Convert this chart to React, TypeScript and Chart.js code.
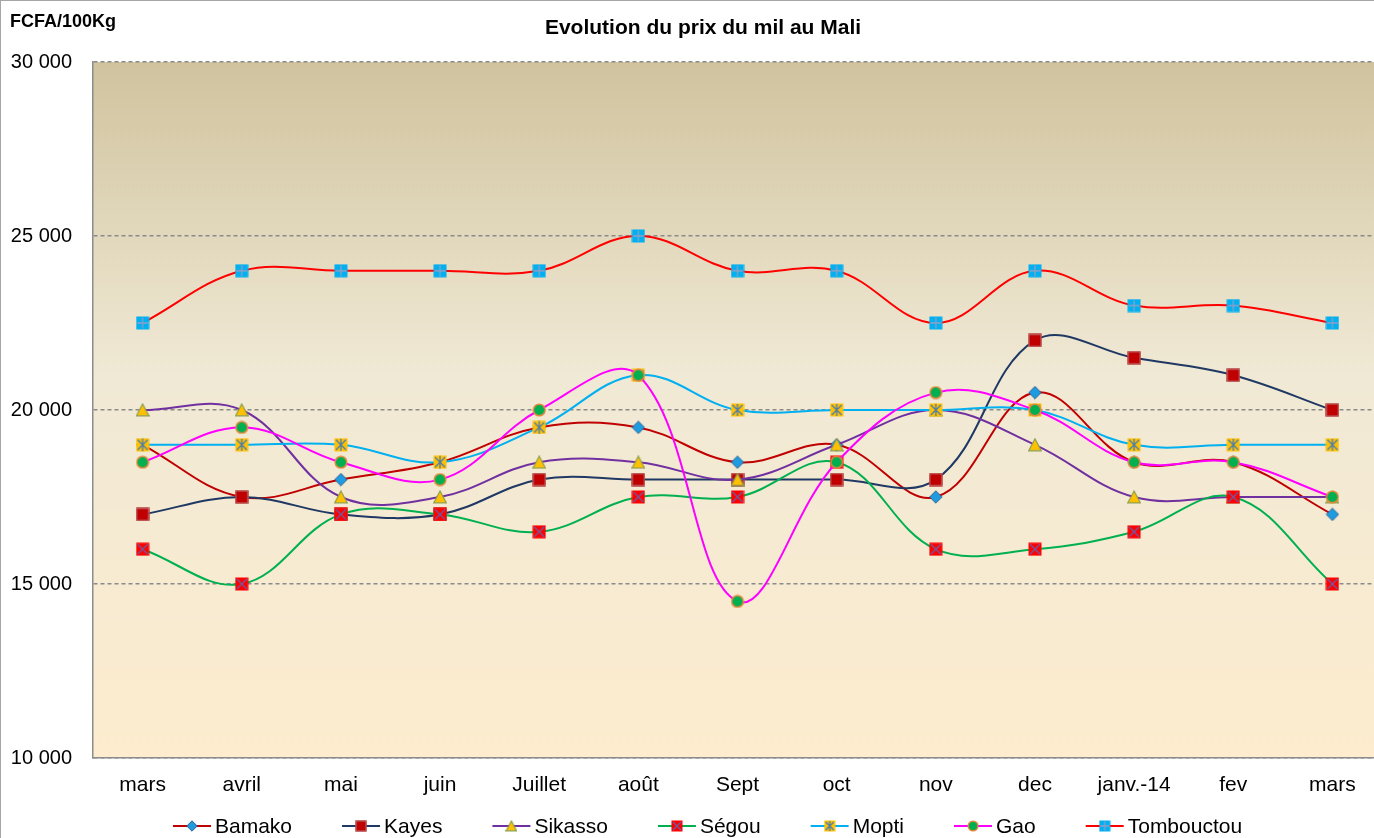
import { useEffect, useRef } from "react";
import { Chart, registerables } from "chart.js";

Chart.register(...registerables);

const months = ["mars", "avril", "mai", "juin", "Juillet", "août", "Sept", "oct", "nov", "dec", "janv.-14", "fev", "mars"];
const bamako = [19000, 17500, 18000, 18500, 19500, 19500, 18500, 19000, 17500, 20500, 18500, 18500, 17000];
const kayes = [17000, 17500, 17000, 17000, 18000, 18000, 18000, 18000, 18000, 22000, 21500, 21000, 20000];
const sikasso = [20000, 20000, 17500, 17500, 18500, 18500, 18000, 19000, 20000, 19000, 17500, 17500, 17500];
const segou = [16000, 15000, 17000, 17000, 16500, 17500, 17500, 18500, 16000, 16000, 16500, 17500, 15000];
const mopti = [19000, 19000, 19000, 18500, 19500, 21000, 20000, 20000, 20000, 20000, 19000, 19000, 19000];
const gao = [18500, 19500, 18500, 18000, 20000, 21000, 14500, 18500, 20500, 20000, 18500, 18500, 17500];
const tombouctou = [22500, 24000, 24000, 24000, 24000, 25000, 24000, 24000, 22500, 24000, 23000, 23000, 22500];
const yMin = 10000;
const yMax = 30000;
const yStep = 5000;

const seriesNames = ["Bamako", "Kayes", "Sikasso", "Ségou", "Mopti", "Gao", "Tombouctou"];
const seriesData = [bamako, kayes, sikasso, segou, mopti, gao, tombouctou];
const lineColors = ["#c00000", "#1f3864", "#7030a0", "#00b050", "#00b0f0", "#ff00ff", "#ff0000"];
const markerKinds = ["diamond", "kayes", "triangle", "segou", "mopti", "gao", "tomb"];

function makeMarker(kind: string, size: number): HTMLCanvasElement {
  const c = document.createElement("canvas");
  c.width = size;
  c.height = size;
  const g = c.getContext("2d")!;
  const m = size / 2;
  g.lineJoin = "miter";
  switch (kind) {
    case "diamond":
      g.beginPath();
      g.moveTo(m, 0.8);
      g.lineTo(size - 0.8, m);
      g.lineTo(m, size - 0.8);
      g.lineTo(0.8, m);
      g.closePath();
      g.fillStyle = "#1f9be0";
      g.fill();
      g.strokeStyle = "#2e6296";
      g.lineWidth = 1;
      g.stroke();
      break;
    case "kayes":
      g.fillStyle = "#c00000";
      g.fillRect(0.5, 0.5, size - 1, size - 1);
      g.strokeStyle = "#b86262";
      g.lineWidth = 1.2;
      g.strokeRect(1, 1, size - 2, size - 2);
      break;
    case "triangle":
      g.beginPath();
      g.moveTo(m, 1);
      g.lineTo(size - 0.8, size - 1.2);
      g.lineTo(0.8, size - 1.2);
      g.closePath();
      g.fillStyle = "#ffc000";
      g.fill();
      g.strokeStyle = "#8d9f4c";
      g.lineWidth = 1.2;
      g.stroke();
      break;
    case "segou":
      g.fillStyle = "#ff0000";
      g.fillRect(0.5, 0.5, size - 1, size - 1);
      g.strokeStyle = "#6a5ca8";
      g.lineWidth = 1.3;
      g.beginPath();
      g.moveTo(2, 2);
      g.lineTo(size - 2, size - 2);
      g.moveTo(size - 2, 2);
      g.lineTo(2, size - 2);
      g.stroke();
      break;
    case "mopti":
      g.fillStyle = "#ffc000";
      g.fillRect(0.5, 0.5, size - 1, size - 1);
      g.strokeStyle = "#4a7db0";
      g.lineWidth = 1.3;
      g.beginPath();
      g.moveTo(2, 2);
      g.lineTo(size - 2, size - 2);
      g.moveTo(size - 2, 2);
      g.lineTo(2, size - 2);
      g.moveTo(m, 1);
      g.lineTo(m, size - 1);
      g.stroke();
      break;
    case "gao":
      g.beginPath();
      g.arc(m, m, m - 1.2, 0, Math.PI * 2);
      g.fillStyle = "#00b050";
      g.fill();
      g.strokeStyle = "#e0883c";
      g.lineWidth = 1.5;
      g.stroke();
      break;
    case "tomb":
      g.fillStyle = "#00b0f0";
      g.fillRect(0.5, 0.5, size - 1, size - 1);
      g.strokeStyle = "#8f9fc6";
      g.lineWidth = 1.3;
      g.beginPath();
      g.moveTo(m, 1.5);
      g.lineTo(m, size - 1.5);
      g.moveTo(1.5, m);
      g.lineTo(size - 1.5, m);
      g.stroke();
      break;
  }
  return c;
}

function fmt(v: number): string {
  const s = String(Math.round(v));
  return s.replace(/\B(?=(\d{3})+(?!\d))/g, " ");
}

const W = 1391;
const H = 850;

export default function App() {
  const ref = useRef<HTMLCanvasElement | null>(null);

  useEffect(() => {
    const canvas = ref.current!;
    const plotMarkers = markerKinds.map((k) => makeMarker(k, 14));
    const legendMarkers = markerKinds.map((k) => makeMarker(k, 12));

    const bgPlugin = {
      id: "bg",
      beforeDraw(chart: any) {
        const { ctx, chartArea: a } = chart;
        ctx.save();
        ctx.fillStyle = "#ffffff";
        ctx.fillRect(0, 0, chart.width, chart.height);
        const grad = ctx.createLinearGradient(0, a.top, 0, a.bottom);
        grad.addColorStop(0, "#d0c39e");
        grad.addColorStop(0.45, "#f0e9d5");
        grad.addColorStop(1, "#fdecce");
        ctx.fillStyle = grad;
        ctx.fillRect(a.left, a.top, a.right - a.left, a.bottom - a.top);
        ctx.restore();
      },
      afterDraw(chart: any) {
        const { ctx } = chart;
        ctx.save();
        ctx.strokeStyle = "#a6a6a6";
        ctx.lineWidth = 1;
        ctx.strokeRect(0.5, 0.5, chart.width - 1, chart.height - 1);
        ctx.fillStyle = "#000";
        ctx.font = "bold 18px 'Liberation Sans', Arial, sans-serif";
        ctx.textAlign = "left";
        ctx.textBaseline = "alphabetic";
        ctx.fillText("FCFA/100Kg", 10, 27);
        ctx.font = "bold 21px 'Liberation Sans', Arial, sans-serif";
        ctx.textAlign = "center";
        ctx.fillText("Evolution du prix du mil au Mali", 703, 34);
        ctx.font = "21px 'Liberation Sans', Arial, sans-serif";
        ctx.textAlign = "left";
        ctx.textBaseline = "middle";
        const ly = 826;
        let x = 173;
        seriesNames.forEach((name, i) => {
          ctx.strokeStyle = lineColors[i];
          ctx.lineWidth = 2;
          ctx.beginPath();
          ctx.moveTo(x, ly);
          ctx.lineTo(x + 38, ly);
          ctx.stroke();
          const mk = legendMarkers[i];
          ctx.drawImage(mk, x + 19 - mk.width / 2, ly - mk.height / 2);
          ctx.fillStyle = "#000";
          ctx.fillText(name, x + 42, ly + 1);
          x += 42 + ctx.measureText(name).width + 50;
        });
        ctx.restore();
      },
    };

    const chart = new Chart(canvas, {
      type: "line",
      data: {
        labels: months,
        datasets: seriesNames.map((name, i) => ({
          label: name,
          data: seriesData[i],
          borderColor: lineColors[i],
          backgroundColor: lineColors[i],
          borderWidth: 2,
          tension: 0.38,
          fill: false,
          pointStyle: plotMarkers[i] as any,
          pointRadius: 7,
          pointHoverRadius: 7,
          order: seriesNames.length - i,
        })),
      },
      options: {
        responsive: false,
        animation: false,
        devicePixelRatio: 1,
        layout: { padding: { left: 0, top: 62, right: 4, bottom: 42 } },
        plugins: {
          legend: { display: false },
          title: { display: false },
          tooltip: { enabled: false },
        },
        scales: {
          x: {
            offset: true,
            grid: { display: false, drawTicks: false },
            border: { display: true, color: "#8c8c8c", width: 1.5 },
            ticks: {
              color: "#000",
              font: { family: "'Liberation Sans', Arial, sans-serif", size: 21 },
              padding: 15,
              maxRotation: 0,
              autoSkip: false,
            },
            afterFit(scale: any) {
              scale.height = 50;
            },
          },
          y: {
            min: yMin,
            max: yMax,
            grid: { color: "#8a8a8a", lineWidth: 1.5, drawTicks: false },
            border: { display: true, color: "#8c8c8c", width: 1.5, dash: [4, 3] },
            ticks: {
              stepSize: yStep,
              color: "#000",
              font: { family: "'Liberation Sans', Arial, sans-serif", size: 20 },
              padding: 21,
              callback: (v: any) => fmt(Number(v)),
            },
            afterFit(scale: any) {
              scale.width = 93;
            },
          },
        },
      },
      plugins: [bgPlugin],
    });
    return () => chart.destroy();
  }, []);

  return (
    <div style={{ position: "fixed", left: 0, top: 0, width: W, height: H, background: "#fff" }}>
      <canvas ref={ref} width={W} height={H} style={{ display: "block", width: W, height: H }} />
    </div>
  );
}
